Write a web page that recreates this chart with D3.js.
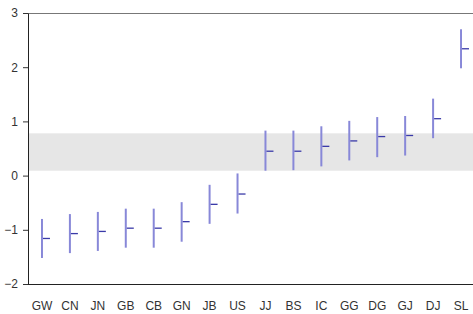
<!DOCTYPE html>
<html>
<head>
<meta charset="utf-8">
<script src="https://cdn.jsdelivr.net/npm/d3@7"></script>
<style>
  body { margin: 0; background: #fff; }
  text { font-family: "Liberation Sans", Arial, sans-serif; fill: #333; }
</style>
</head>
<body>
<div id="chart"></div>
<script>
// Chart data
var categories = ["GW", "CN", "JN", "GB", "CB", "GN", "JB", "US", "JJ", "BS", "IC", "GG", "DG", "GJ", "DJ", "SL"];
var estimates = [-1.16, -1.07, -1.03, -0.97, -0.97, -0.85, -0.53, -0.34, 0.45, 0.45, 0.54, 0.64, 0.72, 0.74, 1.05, 2.34];
var upper = [-0.80, -0.71, -0.67, -0.61, -0.61, -0.49, -0.17, 0.04, 0.83, 0.83, 0.91, 1.01, 1.08, 1.10, 1.42, 2.70];
var lower = [-1.52, -1.43, -1.39, -1.33, -1.33, -1.22, -0.89, -0.70, 0.09, 0.10, 0.17, 0.28, 0.34, 0.37, 0.69, 1.98];
var band = [0.09, 0.78];
var yTicks = [-2, -1, 0, 1, 2, 3];

// Dimensions
var svgWidth = 473;
var svgHeight = 314;
var plotLeft = 28;
var plotRight = 475;
var plotTop = 13;
var plotBottom = 284;

var svg = d3.select("#chart")
  .append("svg")
  .attr("width", svgWidth)
  .attr("height", svgHeight);

// Scales
var xScale = d3.scalePoint()
  .domain(categories)
  .range([plotLeft, plotRight])
  .padding(0.5);

var yScale = d3.scaleLinear()
  .domain([-2, 3])
  .range([plotBottom, plotTop]);

// Shaded band
svg.append("rect")
  .attr("x", plotLeft)
  .attr("y", yScale(band[1]))
  .attr("width", plotRight - plotLeft)
  .attr("height", yScale(band[0]) - yScale(band[1]))
  .attr("fill", "#e6e6e6");

// Top frame line
svg.append("line")
  .attr("x1", plotLeft)
  .attr("x2", plotRight)
  .attr("y1", yScale(3) + 0.5)
  .attr("y2", yScale(3) + 0.5)
  .attr("stroke", "#777")
  .attr("stroke-width", 1);

// Y axis
var yAxis = svg.append("g")
  .attr("transform", `translate(${plotLeft}, 0)`)
  .call(d3.axisLeft(yScale).tickValues(yTicks).tickSize(5).tickSizeOuter(0).tickFormat(d3.format("d")));
yAxis.select(".domain").attr("stroke", "#222");
yAxis.selectAll(".tick line").attr("stroke", "#333");
yAxis.selectAll(".tick text")
  .attr("font-size", "12px")
  .attr("font-family", "Liberation Sans, Arial, sans-serif")
  .attr("fill", "#333")
  .attr("x", -10);

// X axis line
svg.append("line")
  .attr("x1", plotLeft)
  .attr("x2", plotRight)
  .attr("y1", plotBottom + 0.5)
  .attr("y2", plotBottom + 0.5)
  .attr("stroke", "#222")
  .attr("stroke-width", 1);

// Category labels
svg.append("g")
  .selectAll("text")
  .data(categories)
  .enter()
  .append("text")
  .attr("x", d => xScale(d))
  .attr("y", 310)
  .attr("text-anchor", "middle")
  .attr("font-size", "12px")
  .text(d => d);

// Interval lines
svg.append("g")
  .selectAll("line")
  .data(categories)
  .enter()
  .append("line")
  .attr("x1", d => xScale(d))
  .attr("x2", d => xScale(d))
  .attr("y1", (d, i) => yScale(upper[i]))
  .attr("y2", (d, i) => yScale(lower[i]))
  .attr("stroke", "#8888d8")
  .attr("stroke-width", 2);

// Estimate ticks
svg.append("g")
  .selectAll("line")
  .data(categories)
  .enter()
  .append("line")
  .attr("x1", d => xScale(d) + 1)
  .attr("x2", d => xScale(d) + 8)
  .attr("y1", (d, i) => yScale(estimates[i]))
  .attr("y2", (d, i) => yScale(estimates[i]))
  .attr("stroke", "#3a3aa8")
  .attr("stroke-width", 1.3);
</script>
</body>
</html>
